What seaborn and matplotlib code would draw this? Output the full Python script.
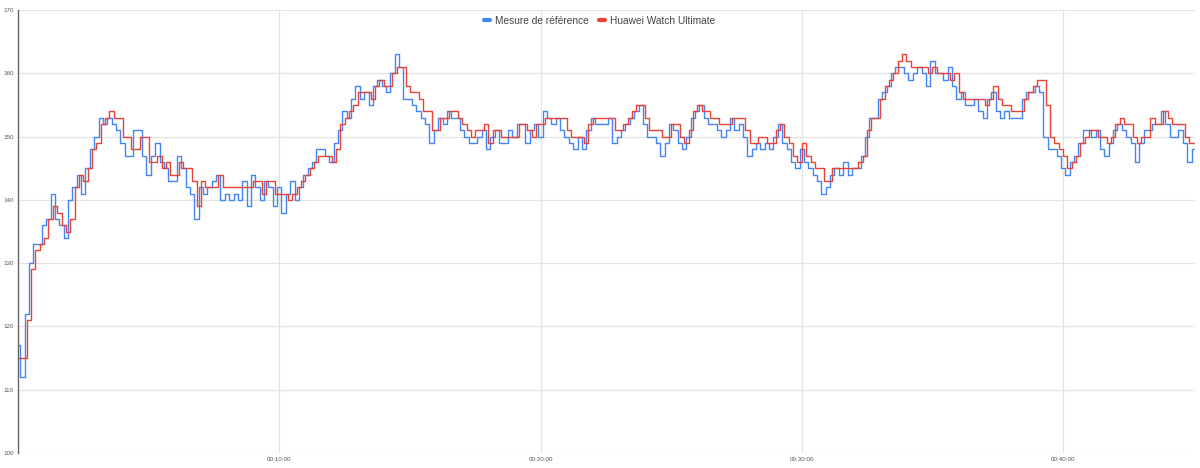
import numpy as np
import pandas as pd
import matplotlib
matplotlib.use("Agg")
import matplotlib.pyplot as plt
import seaborn as sns
from matplotlib.lines import Line2D

step_seconds = 10
series_names = ["Mesure de référence", "Huawei Watch Ultimate"]

reference_bpm = [
    117, 112, 122, 130, 133, 133, 136, 137, 141, 137,
    136, 134, 140, 142, 144, 141, 145, 148, 150, 153,
    152, 153, 152, 151, 149, 147, 147, 151, 151, 147,
    144, 147, 149, 146, 145, 143, 143, 147, 145, 142,
    141, 137, 142, 141, 142, 143, 144, 140, 141, 140,
    141, 140, 143, 139, 144, 142, 140, 143, 142, 139,
    142, 138, 141, 143, 140,
    142, 144, 145, 146,
    148, 148, 147, 146, 149, 151, 154, 153, 156, 158, 156,
    157, 155, 158, 159, 158, 157, 160, 163, 161, 156,
    156, 155, 154, 153, 152, 149, 151, 153, 152, 154,
    153, 153, 151, 150, 149, 149, 150, 151, 148, 150,
    151, 149, 149, 151, 150, 152, 152, 149, 151, 152,
    150, 154, 153, 152, 153, 151, 150, 149, 148, 150,
    148, 151, 153, 152,
    152, 152, 153, 149, 150, 151, 152, 153, 154, 155,
    152, 150, 150, 149, 147, 149, 152, 151, 149, 148,
    150, 153, 154, 155, 153, 152, 152, 151, 150, 151,
    153, 151, 152, 150, 147, 148, 149, 148, 149, 148,
    150, 152, 149, 148, 146, 145, 148, 146, 145, 144,
    143, 141, 142, 144, 145, 144, 146, 144, 145, 145,
    147, 150, 153, 153, 156, 157, 158, 160, 161,
    161, 160, 159, 160, 161, 160, 158, 162, 160, 160,
    159, 161, 158, 156, 157, 155, 155, 156, 154, 153,
    156, 157, 154, 153, 154, 153, 153, 153, 156, 157,
    157, 158, 157, 150, 148, 148, 147, 145, 144, 146,
    147, 149, 151, 151, 150, 151, 148, 147, 149, 151,
    152, 151, 150, 149, 146, 149, 151, 151, 152, 152,
    154, 152, 150, 150, 151, 149, 146, 148,
]

huawei_bpm = [
    115, 115, 121, 129, 132, 133, 134, 137, 139, 138,
    136, 135, 137, 142, 144, 143, 145, 148, 149, 152,
    153, 154, 153, 153, 150, 150, 148, 148, 150, 150,
    146, 146, 147, 145, 146, 144, 144, 146, 145, 145,
    143, 139, 143, 142, 142, 142, 144, 142, 142, 142,
    142, 142, 142, 142, 143, 143, 141, 143, 143, 141,
    141, 141, 140, 141, 142,
    143, 144, 145, 146,
    147, 147, 147, 146, 148, 152, 153, 154, 155, 157, 157,
    157, 156, 158, 159, 158, 158, 160, 161, 161, 158,
    157, 157, 156, 154, 154, 151, 151, 153, 153, 154,
    154, 153, 152, 151, 150, 151, 151, 152, 149, 151,
    151, 150, 150, 150, 150, 152, 152, 151, 150, 152,
    152, 153, 153, 153, 153, 153, 151, 150, 150, 150,
    149, 152, 153, 153,
    153, 153, 153, 151, 151, 152, 153, 154, 155, 155,
    153, 151, 151, 151, 150, 150, 152, 152, 150, 149,
    151, 154, 155, 154, 154, 153, 153, 152, 152, 152,
    153, 153, 153, 151, 149, 149, 150, 150, 149, 149,
    151, 152, 150, 149, 147, 146, 149, 147, 146, 145,
    145, 143, 143, 145, 145, 145, 145, 145, 145, 146,
    147, 151, 153, 153, 156, 158, 159, 160, 162,
    163, 162, 161, 161, 161, 161, 160, 161, 160, 160,
    160, 159, 160, 157, 156, 156, 156, 156, 156, 155,
    156, 158, 156, 155, 155, 154, 154, 154, 156, 157,
    158, 159, 159, 155, 150, 149, 148, 147, 145, 146,
    147, 149, 150, 151, 151, 150, 150, 149, 150, 152,
    153, 152, 152, 150, 149, 150, 150, 153, 152, 152,
    154, 153, 152, 152, 152, 150, 149, 149,
]

x_tick_seconds = [600, 1200, 1800, 2400]
x_tick_labels = ["00:10:00", "00:20:00", "00:30:00", "00:40:00"]
y_ticks = [100, 110, 120, 130, 140, 150, 160, 170]

colors = {"Mesure de référence": "#4285F4", "Huawei Watch Ultimate": "#EA4335"}

n = min(len(reference_bpm), len(huawei_bpm))
t = np.arange(n) * step_seconds
df_ref = pd.DataFrame({"t": t, "bpm": reference_bpm[:n], "serie": series_names[0]})
df_hw = pd.DataFrame({"t": t, "bpm": huawei_bpm[:n], "serie": series_names[1]})

sns.set_theme(style="white")
plt.rcParams["font.family"] = ["Liberation Sans", "DejaVu Sans"]

fig = plt.figure(figsize=(12, 4.68), dpi=100)
ax = fig.add_axes([18 / 1200, 1 - 453 / 468, 1177 / 1200, 443 / 468])

sns.lineplot(data=df_ref, x="t", y="bpm", color=colors[series_names[0]],
             linewidth=1.0, drawstyle="steps-mid", estimator=None, ax=ax, legend=False)
sns.lineplot(data=df_hw, x="t", y="bpm", color=colors[series_names[1]],
             linewidth=1.0, drawstyle="steps-post", estimator=None, ax=ax, legend=False)

ax.set_xlim(0, 2703)
ax.set_ylim(100, 170)
ax.set_yticks(y_ticks)
ax.set_yticklabels([str(v) for v in y_ticks])
ax.set_xticks(x_tick_seconds)
ax.set_xticklabels(x_tick_labels)
ax.set_xlabel("")
ax.set_ylabel("")
ax.tick_params(axis="both", length=0, labelsize=4.5, labelcolor="#555555")
ax.tick_params(axis="y", pad=3)
ax.tick_params(axis="x", pad=3)

ax.grid(True, color="#e3e3e3", linewidth=0.9)
ax.set_axisbelow(True)
for side in ["top", "right", "bottom"]:
    ax.spines[side].set_visible(False)
ax.spines["left"].set_color("#666666")
ax.spines["left"].set_linewidth(1.0)

handles = [Line2D([0], [0], color=colors[s], linewidth=3) for s in series_names]
fig.legend(handles, series_names, loc="center", bbox_to_anchor=(0.5, 1 - 21 / 468),
           ncol=2, frameon=False, fontsize=7.3, handlelength=0.6,
           handletextpad=0.5, columnspacing=1.0, labelcolor="#444444")

fig.savefig("out.png", dpi=100)
